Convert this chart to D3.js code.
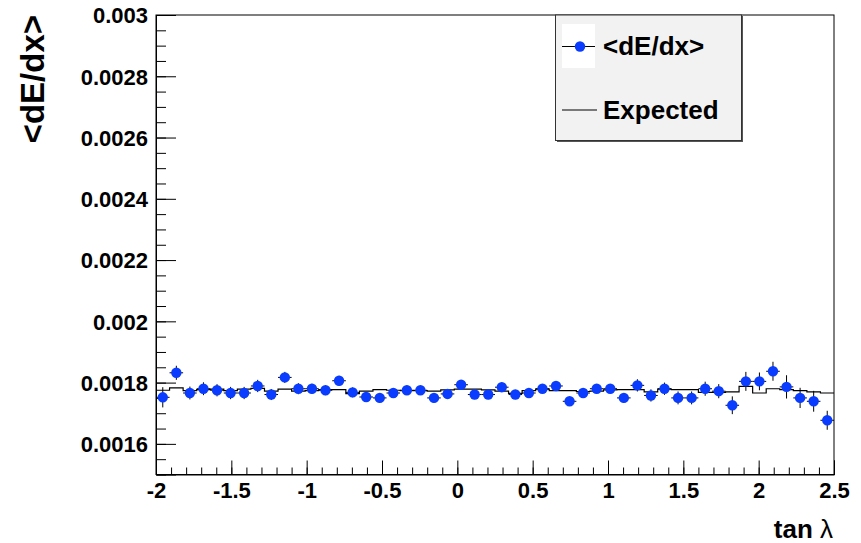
<!DOCTYPE html>
<html>
<head>
<meta charset="utf-8">
<script src="https://cdn.jsdelivr.net/npm/d3@7"></script>
<style>
  html, body { margin: 0; padding: 0; background: #fff; }
  svg { display: block; }
  text { font-family: "Liberation Sans", Arial, Helvetica, sans-serif; font-weight: bold; fill: #000; }
</style>
</head>
<body>
<svg id="chart" width="861" height="543"></svg>
<script>
// Binning along tan(lambda)
const xMin = -2, xMax = 2.5, nBins = 50;

// Measured mean dE/dx per bin
const measured = [
  0.001752, 0.001832, 0.001766, 0.001780, 0.001775, 0.001766, 0.001766, 0.001789, 0.001761, 0.001817,
  0.001780, 0.001780, 0.001775, 0.001806, 0.001768, 0.001753, 0.001750, 0.001766, 0.001775, 0.001775,
  0.001750, 0.001763, 0.001793, 0.001761, 0.001761, 0.001785, 0.001761, 0.001766, 0.001780, 0.001789,
  0.001739, 0.001766, 0.001780, 0.001780, 0.001750, 0.001791, 0.001758, 0.001780, 0.001750, 0.001750,
  0.001780, 0.001772, 0.001726, 0.001804, 0.001804, 0.001837, 0.001786, 0.001750, 0.001739, 0.001677
];

// Statistical uncertainty on each measured bin
const measuredErr = [
  0.000033, 0.000023, 0.000021, 0.000021, 0.000020, 0.000020, 0.000020, 0.000020, 0.000018, 0.000018,
  0.000018, 0.000016, 0.000016, 0.000016, 0.000016, 0.000015, 0.000015, 0.000015, 0.000015, 0.000015,
  0.000015, 0.000015, 0.000015, 0.000015, 0.000015, 0.000015, 0.000015, 0.000015, 0.000015, 0.000015,
  0.000015, 0.000015, 0.000015, 0.000015, 0.000016, 0.000020, 0.000020, 0.000020, 0.000021, 0.000021,
  0.000023, 0.000023, 0.000029, 0.000031, 0.000029, 0.000031, 0.000038, 0.000033, 0.000034, 0.000031
];

// Expected dE/dx per bin
const expected = [
  0.001775, 0.001783, 0.001774, 0.001777, 0.001779, 0.001774, 0.001779, 0.001781, 0.001772, 0.001779,
  0.001772, 0.001774, 0.001777, 0.001777, 0.001764, 0.001772, 0.001777, 0.001775, 0.001774, 0.001774,
  0.001772, 0.001776, 0.001779, 0.001779, 0.001776, 0.001772, 0.001765, 0.001774, 0.001779, 0.001774,
  0.001774, 0.001771, 0.001772, 0.001776, 0.001777, 0.001777, 0.001770, 0.001779, 0.001777, 0.001777,
  0.001768, 0.001768, 0.001770, 0.001788, 0.001766, 0.001780, 0.001777, 0.001774, 0.001770, 0.001766
];

const xTickValues = [-2, -1.5, -1, -0.5, 0, 0.5, 1, 1.5, 2, 2.5];
const xTickLabels = ["-2", "-1.5", "-1", "-0.5", "0", "0.5", "1", "1.5", "2", "2.5"];
const yTickValues = [0.0016, 0.0018, 0.002, 0.0022, 0.0024, 0.0026, 0.0028, 0.003];
const yTickLabels = ["0.0016", "0.0018", "0.002", "0.0022", "0.0024", "0.0026", "0.0028", "0.003"];
const legendLabels = ["<dE/dx>", "Expected"];

const svg = d3.select("#chart");
const frame = { left: 156, right: 834, top: 15, bottom: 474.5 };

const x = d3.scaleLinear().domain([xMin, xMax]).range([frame.left, frame.right]);
const y = d3.scaleLinear().domain([0.0015, 0.003]).range([frame.bottom, frame.top]);

const binW = (xMax - xMin) / nBins;
const bins = measured.map((v, i) => ({
  lo: xMin + i * binW,
  hi: xMin + (i + 1) * binW,
  c: xMin + (i + 0.5) * binW,
  v: v,
  e: measuredErr[i],
  exp: expected[i]
}));

// Frame
svg.append("rect")
  .attr("x", frame.left).attr("y", frame.top)
  .attr("width", frame.right - frame.left).attr("height", frame.bottom - frame.top)
  .attr("fill", "#fff").attr("stroke", "#000").attr("stroke-width", 1);

// Axes: minor ticks then major ticks with labels, ticks pointing inward
const yMinor = d3.range(0.0015, 0.0030001, 0.00005);
svg.append("g").attr("transform", `translate(${frame.left},0)`)
  .call(d3.axisLeft(y).tickValues(yMinor).tickSize(-10).tickFormat(""))
  .call(g => g.select(".domain").remove());
svg.append("g").attr("class", "yaxis").attr("transform", `translate(${frame.left},0)`)
  .call(d3.axisLeft(y).tickValues(yTickValues).tickSize(-20).tickPadding(8)
    .tickFormat((d, i) => yTickLabels[i]))
  .call(g => g.select(".domain").attr("stroke", "#000"))
  .call(g => g.selectAll("text").attr("font-size", 22).attr("dy", "0.36em")
    .style("font-family", "'Liberation Sans', Arial, sans-serif").style("font-weight", "bold"));

const xMinor = d3.range(xMin, xMax + 0.0001, 0.1);
svg.append("g").attr("transform", `translate(0,${frame.bottom})`)
  .call(d3.axisBottom(x).tickValues(xMinor).tickSize(-7).tickFormat(""))
  .call(g => g.select(".domain").remove());
svg.append("g").attr("transform", `translate(0,${frame.bottom})`)
  .call(d3.axisBottom(x).tickValues(xTickValues).tickSize(-14).tickPadding(8)
    .tickFormat((d, i) => xTickLabels[i]))
  .call(g => g.select(".domain").attr("stroke", "#000"))
  .call(g => g.selectAll("text").attr("font-size", 22)
    .style("font-family", "'Liberation Sans', Arial, sans-serif").style("font-weight", "bold"));

svg.selectAll(".tick line").attr("stroke", "#000");

// Axis titles
svg.append("text")
  .attr("x", 833).attr("y", 538)
  .attr("text-anchor", "end").attr("font-size", 26)
  .call(t => {
    t.append("tspan").text("tan ");
    t.append("tspan").attr("font-weight", "normal").style("font-weight", "normal").text("λ");
  });

svg.append("text")
  .attr("transform", "translate(44,15) rotate(-90)")
  .attr("text-anchor", "end").attr("font-size", 33)
  .text("<dE/dx>");

// Expected: step histogram
const stepPts = bins.map(b => [b.lo, b.exp]).concat([[xMax, bins[bins.length - 1].exp]]);
svg.append("path")
  .datum(stepPts)
  .attr("fill", "none").attr("stroke", "#000").attr("stroke-width", 1.2)
  .attr("d", d3.line().x(d => x(d[0])).y(d => y(d[1])).curve(d3.curveStepAfter));

// Measured: error bars and markers
const pts = svg.append("g");
pts.selectAll("line.ex").data(bins).join("line")
  .attr("x1", d => x(d.lo)).attr("x2", d => x(d.hi))
  .attr("y1", d => y(d.v)).attr("y2", d => y(d.v))
  .attr("stroke", "#000").attr("stroke-width", 1);
pts.selectAll("line.ey").data(bins).join("line")
  .attr("x1", d => x(d.c)).attr("x2", d => x(d.c))
  .attr("y1", d => y(d.v - d.e)).attr("y2", d => y(d.v + d.e))
  .attr("stroke", "#000").attr("stroke-width", 1);
pts.selectAll("circle").data(bins).join("circle")
  .attr("cx", d => x(d.c)).attr("cy", d => y(d.v)).attr("r", 5.2)
  .attr("fill", "#0a3cff");

// Legend
const lg = svg.append("g");
lg.append("rect").attr("x", 557).attr("y", 16).attr("width", 186).attr("height", 126).attr("fill", "#555");
lg.append("rect").attr("x", 555.5).attr("y", 15).attr("width", 186).attr("height", 125.5)
  .attr("fill", "#f2f2f2").attr("stroke", "#333").attr("stroke-width", 1);
lg.append("rect").attr("x", 562).attr("y", 24).attr("width", 33).attr("height", 44).attr("fill", "#fff");
lg.append("line").attr("x1", 562).attr("x2", 595).attr("y1", 46.5).attr("y2", 46.5)
  .attr("stroke", "#000").attr("stroke-width", 1);
lg.append("circle").attr("cx", 580).attr("cy", 46.5).attr("r", 5.2).attr("fill", "#0a3cff");
lg.append("line").attr("x1", 562).attr("x2", 597).attr("y1", 110).attr("y2", 110)
  .attr("stroke", "#000").attr("stroke-width", 1.2);
lg.append("text").attr("x", 603).attr("y", 55).attr("font-size", 26).text(legendLabels[0]);
lg.append("text").attr("x", 603).attr("y", 119).attr("font-size", 26).text(legendLabels[1]);
</script>
</body>
</html>
